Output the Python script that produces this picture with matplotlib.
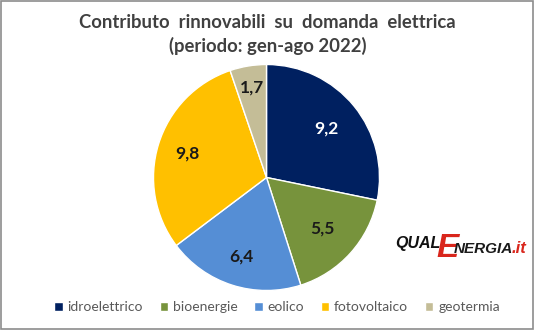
import numpy as np
import matplotlib.pyplot as plt
from matplotlib.patches import Rectangle

categories = ['idroelettrico', 'bioenergie', 'eolico', 'fotovoltaico', 'geotermia']
values = [9.2, 5.5, 6.4, 9.8, 1.7]
colors = ['#002060', '#77933C', '#558ED5', '#FFC000', '#C4BD97']
label_colors = ['white', '#1a1a1a', '#1a1a1a', '#1a1a1a', '#1a1a1a']
label_dist = [0.68, 0.67, 0.73, 0.73, 0.81]

plt.rcParams['font.family'] = ['Lato', 'DejaVu Sans']

fig = plt.figure(figsize=(5.35, 3.3), dpi=100)
fig.patch.set_facecolor('white')
fig.add_artist(Rectangle((0.002, 0.003), 0.995, 0.994, transform=fig.transFigure,
                         fill=False, edgecolor='#8c8c8c', linewidth=1.2))

cx, cy, r = 266.5, 177.5, 113
ax = fig.add_axes([(cx - r) / 535, (330 - cy - r) / 330, 2 * r / 535, 2 * r / 330])
wedges, texts = ax.pie(values, colors=colors, startangle=90, counterclock=False,
                       labels=[f'{v:.1f}'.replace('.', ',') for v in values],
                       wedgeprops=dict(edgecolor='white', linewidth=1))
for w, t, c, d in zip(wedges, texts, label_colors, label_dist):
    ang = np.deg2rad((w.theta1 + w.theta2) / 2)
    t.set_position((d * np.cos(ang), d * np.sin(ang)))
    t.set_ha('center')
    t.set_va('center')
    t.set_fontsize(12.5)
    t.set_fontweight('bold')
    t.set_color(c)
ax.set_xlim(-1, 1)
ax.set_ylim(-1, 1)
ax.set_aspect('auto')
ax.axis('off')

fig.text(0.5, 1 - 22 / 330, 'Contributo  rinnovabili  su  domanda  elettrica', ha='center', va='center',
         fontsize=13.3, fontweight='bold', color='#404040')
fig.text(0.5, 1 - 46 / 330, '(periodo: gen-ago 2022)', ha='center', va='center',
         fontsize=13.3, fontweight='bold', color='#404040')

leg = fig.legend(wedges, categories, loc='center', bbox_to_anchor=(0.518, 1 - 307 / 330), ncol=5,
                 frameon=False, fontsize=10, handlelength=0.6, handleheight=0.6,
                 handletextpad=0.35, columnspacing=1.2)
for t in leg.get_texts():
    t.set_color('#595959')

# logo
logo_font = ['Liberation Sans Narrow', 'Liberation Sans']
fig.text(395 / 535, 1 - 248 / 330, 'QUAL', fontsize=11.5, fontweight='bold', style='italic',
         color='#111111', va='baseline', family=logo_font)
fig.text(436 / 535, 1 - 257 / 330, 'E', fontsize=24, fontweight='bold', style='italic',
         color='#d9261c', va='baseline', family=logo_font)
fig.text(454 / 535, 1 - 253 / 330, 'NERGIA', fontsize=11, fontweight='bold', style='italic',
         color='#1a1a1a', va='baseline', family=logo_font)
fig.text(512 / 535, 1 - 253 / 330, '.it', fontsize=12, fontweight='bold', style='italic',
         color='#d9261c', va='baseline', family=logo_font)

fig.savefig('out.png', dpi=100)
